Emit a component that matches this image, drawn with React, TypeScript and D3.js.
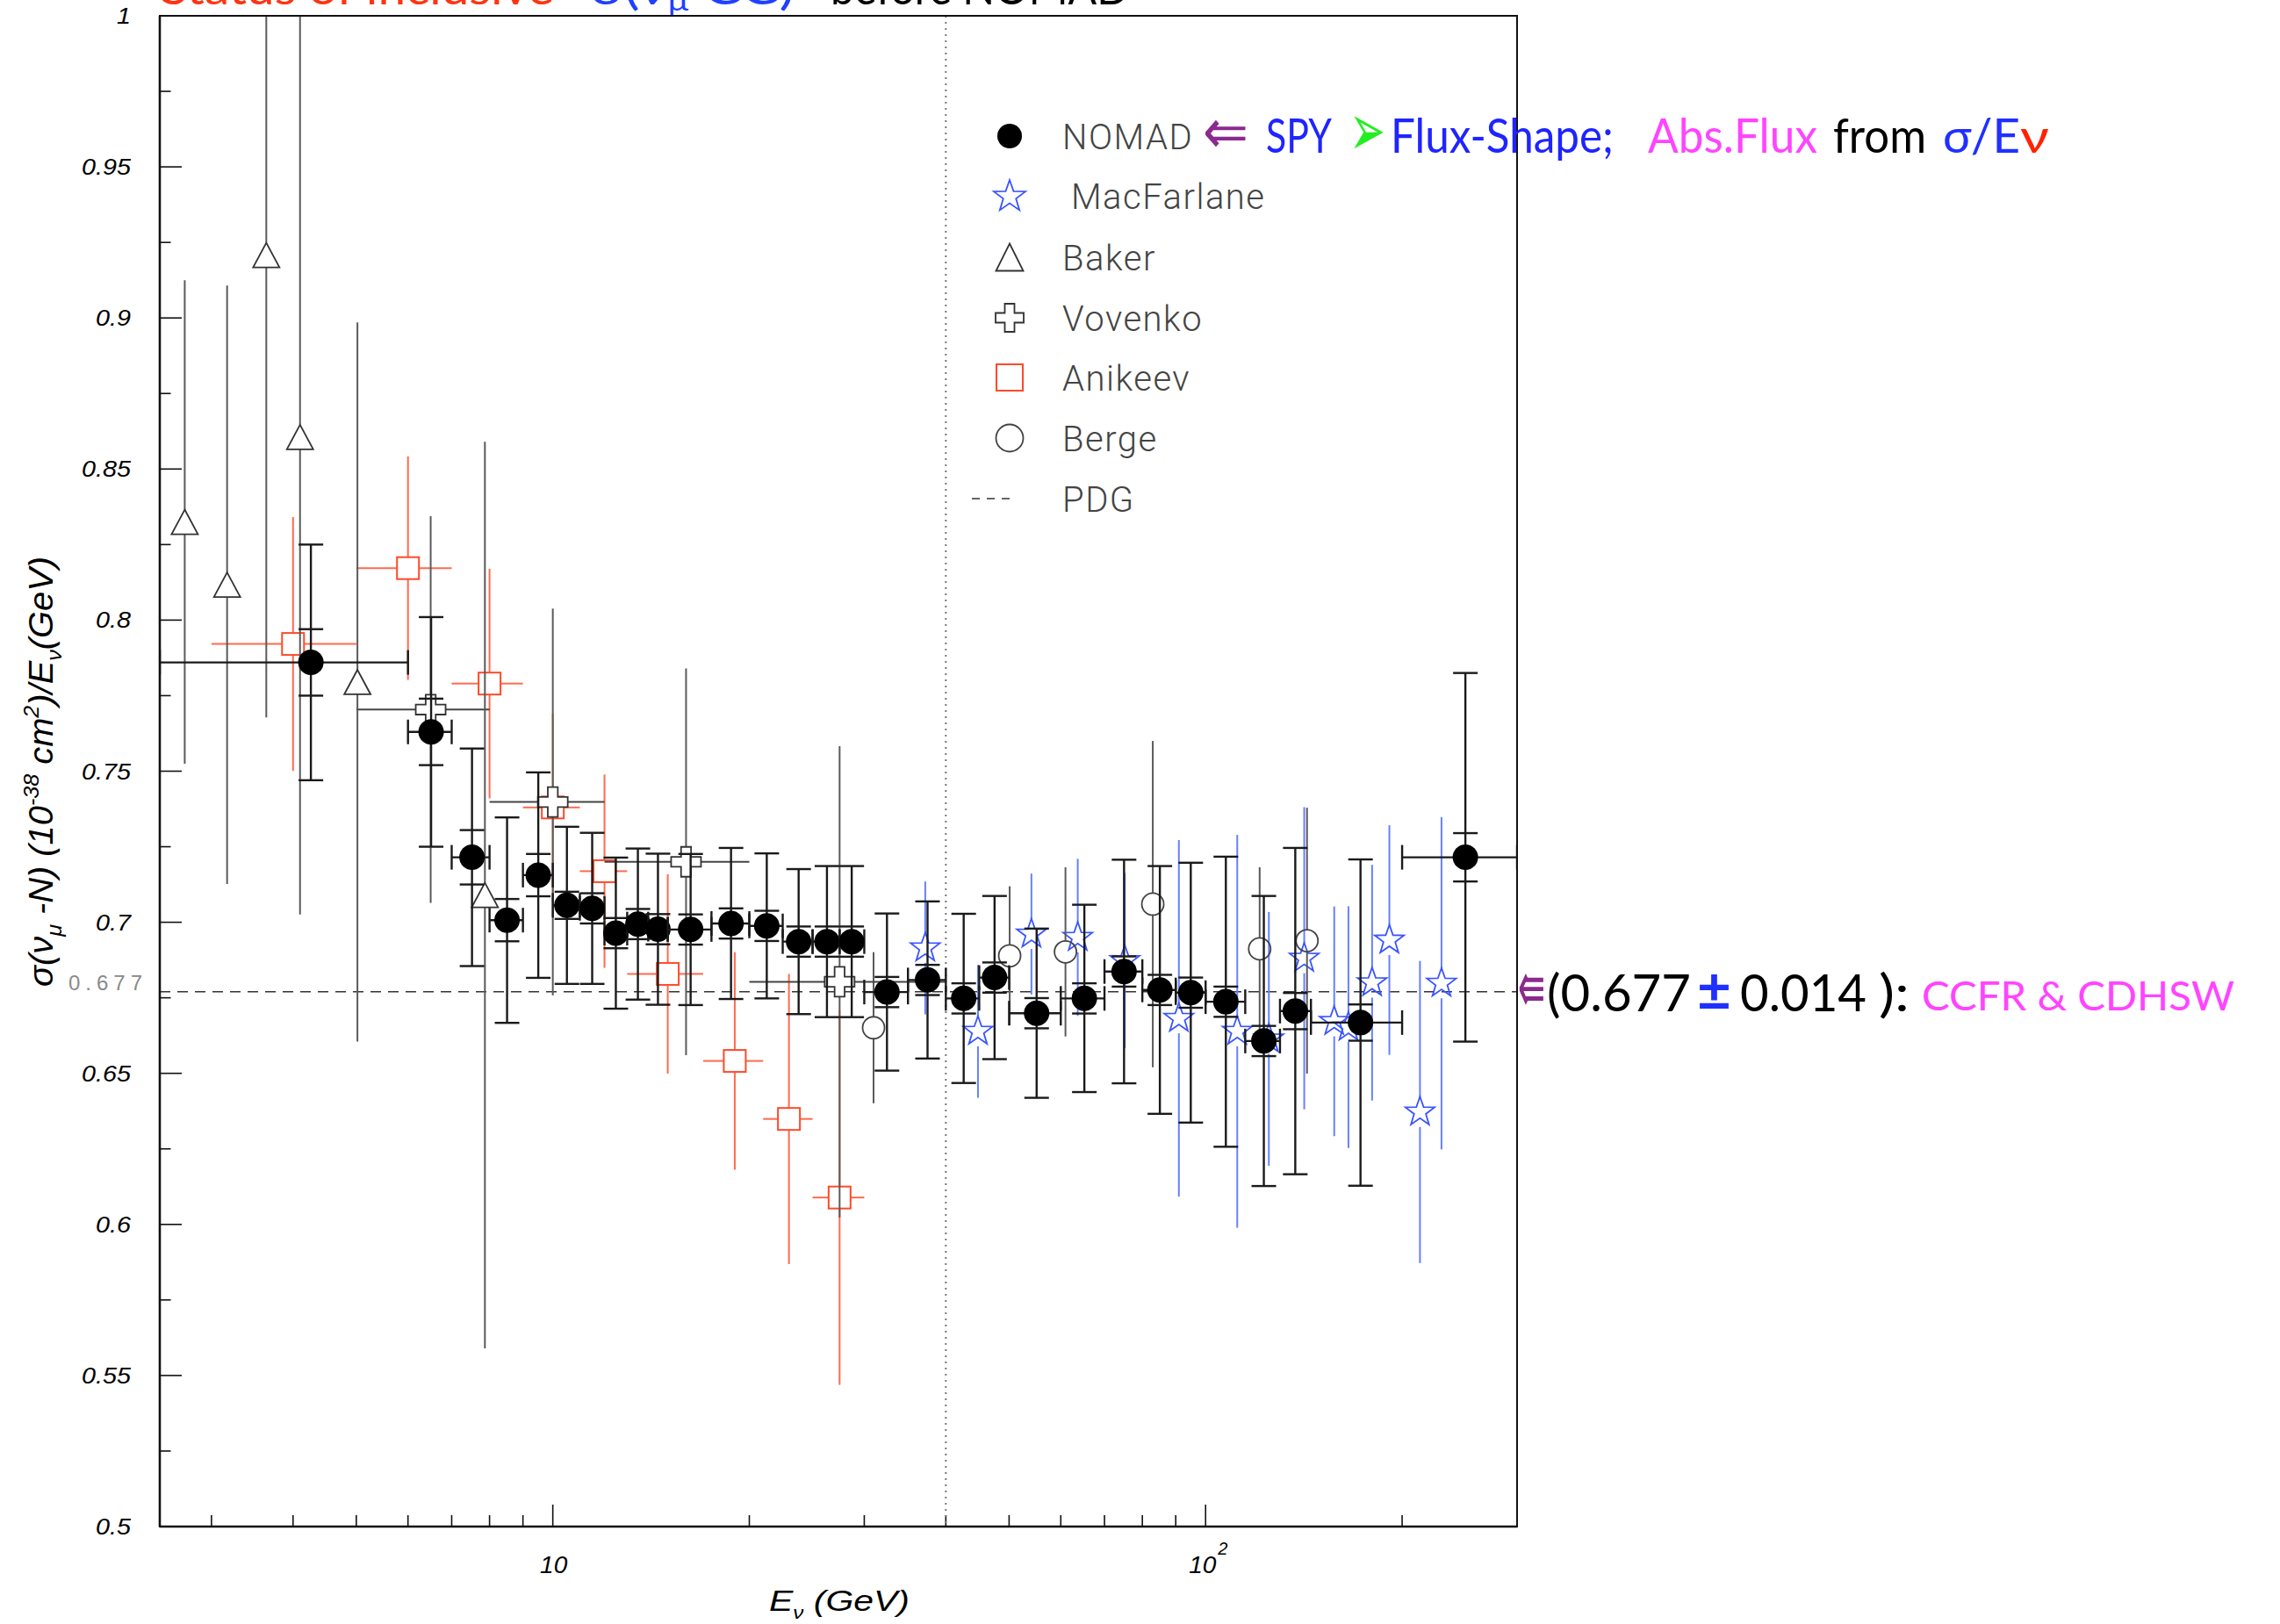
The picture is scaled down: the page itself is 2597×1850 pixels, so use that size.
import React from "react";
import * as d3 from "d3";

// ---------- data: sigma(nu_mu N)/E_nu in 1e-38 cm^2/GeV ----------
// NOMAD: bin centres, bin edges, values, total and statistical errors
const nomadE = [4.26, 6.51, 7.52, 8.51, 9.5, 10.51, 11.49, 12.49, 13.5, 14.49, 16.26, 18.75, 21.27, 23.8, 26.3, 28.7, 32.5, 37.5, 42.6, 47.5, 55.1, 65.2, 75.0, 85.1, 94.9, 107.4, 122.8, 137.2, 172.7, 250];
const nomadLo = [2.5, 6, 7, 8, 9, 10, 11, 12, 13, 14, 15, 17.5, 20, 22.5, 25, 27.5, 30, 35, 40, 45, 50, 60, 70, 80, 90, 100, 115, 130, 145, 200];
const nomadHi = [6, 7, 8, 9, 10, 11, 12, 13, 14, 15, 17.5, 20, 22.5, 25, 27.5, 30, 35, 40, 45, 50, 60, 70, 80, 90, 100, 115, 130, 145, 200, 300];
const nomadVal = [0.786, 0.763, 0.7215, 0.7007, 0.7156, 0.7056, 0.7046, 0.6964, 0.6994, 0.6977, 0.6976, 0.6996, 0.6988, 0.6936, 0.6936, 0.6936, 0.6769, 0.6809, 0.6748, 0.6817, 0.6699, 0.6748, 0.6837, 0.6776, 0.6767, 0.6737, 0.6607, 0.6706, 0.6668, 0.7215];
const nomadTot = [0.039, 0.038, 0.036, 0.034, 0.034, 0.026, 0.025, 0.025, 0.025, 0.025, 0.025, 0.025, 0.024, 0.024, 0.025, 0.025, 0.026, 0.026, 0.028, 0.027, 0.028, 0.031, 0.037, 0.041, 0.043, 0.048, 0.048, 0.054, 0.054, 0.061];
const nomadStat = [0.011, 0.011, 0.009, 0.007, 0.007, 0.0045, 0.005, 0.005, 0.005, 0.005, 0.005, 0.005, 0.005, 0.005, 0.005, 0.005, 0.005, 0.005, 0.005, 0.005, 0.005, 0.005, 0.005, 0.005, 0.005, 0.005, 0.005, 0.006, 0.006, 0.008];

// MacFarlane
const macE = [37.2, 44.8, 54.1, 63.7, 75.2, 91.0, 111.8, 125, 141.6, 157.4, 165.5, 179.9, 191.2, 213, 229.8];
const macVal = [0.6915, 0.6639, 0.6961, 0.695, 0.6873, 0.6682, 0.6639, 0.6614, 0.6881, 0.6672, 0.6653, 0.68, 0.6941, 0.6372, 0.6798];
const macErr = [0.022, 0.022, 0.02, 0.026, 0.029, 0.059, 0.065, 0.042, 0.05, 0.038, 0.04, 0.039, 0.038, 0.05, 0.055];

// Baker
const bakerE = [2.73, 3.17, 3.64, 4.1, 5.02, 7.87];
const bakerVal = [0.8325, 0.8117, 0.9208, 0.8606, 0.7795, 0.709];
const bakerErr = [0.08, 0.099, 0.153, 0.158, 0.119, 0.15];

// Vovenko
const vovE = [6.5, 10.0, 16.0, 27.5];
const vovLo = [5, 8, 12, 20];
const vovHi = [8, 12, 20, 40];
const vovVal = [0.7704, 0.7398, 0.72, 0.6803];
const vovErr = [0.064, 0.064, 0.064, 0.078];

// Anikeev
const aniE = [4.0, 6.0, 8.0, 10.0, 12.0, 15.0, 19.0, 23.0, 27.5];
const aniLo = [3, 5, 7, 9, 11, 13, 17, 21, 25];
const aniHi = [5, 7, 9, 11, 13, 17, 21, 25, 30];
const aniVal = [0.7921, 0.8172, 0.779, 0.738, 0.7169, 0.6829, 0.6541, 0.6349, 0.6089];
const aniErr = [0.042, 0.037, 0.038, 0.031, 0.032, 0.033, 0.036, 0.048, 0.062];

// Berge
const bergeE = [31.0, 50.1, 61.0, 83.0, 121.0, 143.0];
const bergeVal = [0.6651, 0.6889, 0.6902, 0.706, 0.6912, 0.6939];
const bergeErr = [0.025, 0.023, 0.028, 0.054, 0.027, 0.044];

// PDG world average and the energy boundary marker
const pdgValue = 0.677;
const boundaryE = 40;

// axis ticks
const yMajor = [0.5, 0.55, 0.6, 0.65, 0.7, 0.75, 0.8, 0.85, 0.9, 0.95, 1.0];
const yLabels = ["0.5", "0.55", "0.6", "0.65", "0.7", "0.75", "0.8", "0.85", "0.9", "0.95", "1"];
const yMinor = [0.525, 0.575, 0.625, 0.675, 0.725, 0.775, 0.825, 0.875, 0.925, 0.975];
const xMajor = [10, 100];
const xMinor = [3, 4, 5, 6, 7, 8, 9, 20, 30, 40, 50, 60, 70, 80, 90, 200];

const legendNames = ["NOMAD", "MacFarlane", "Baker", "Vovenko", "Anikeev", "Berge", "PDG"];

// ---------- geometry ----------
const W = 2597;
const H = 1850;
const X0 = 182;
const X1 = 1728;
const Y0 = 18;
const Y1 = 1739;

const x = d3.scaleLog().domain([2.5, 300]).range([X0, X1]);
const y = d3.scaleLinear().domain([0.5, 1]).range([Y1, Y0]);

const AX_FONT = "'Liberation Sans', Arial, Helvetica, sans-serif";
const GILL = "Lato, 'Open Sans', 'DejaVu Sans', sans-serif";
const SYM_FONT = "'DejaVu Sans', sans-serif";
const LEG_FONT = "Roboto, 'Liberation Sans', sans-serif";

const BLUE_STAR = "#3a55ff";
const BLUE_LINE = "#6680ff";
const RED_SQ = "#ff4a2a";
const RED_LINE = "#ff6a4e";
const GRAY_LINE = "#5a5a5a";

function starPath(R: number): string {
  const r = R * 0.4;
  const pts: string[] = [];
  for (let i = 0; i < 10; i++) {
    const a = -Math.PI / 2 + (i * Math.PI) / 5;
    const rad = i % 2 === 0 ? R : r;
    pts.push(`${(rad * Math.cos(a)).toFixed(2)},${(rad * Math.sin(a)).toFixed(2)}`);
  }
  return "M" + pts.join("L") + "Z";
}

function trianglePath(w: number, h: number): string {
  return `M0,${-h / 2}L${w / 2},${h / 2}L${-w / 2},${h / 2}Z`;
}

function crossPath(a: number, b: number): string {
  return `M${-b},${-a}L${b},${-a}L${b},${-b}L${a},${-b}L${a},${b}L${b},${b}L${b},${a}L${-b},${a}L${-b},${b}L${-a},${b}L${-a},${-b}L${-b},${-b}Z`;
}

// vertical error line split around the marker
function VErr(props: { cx: number; v: number; e: number; gap: number; stroke: string; sw: number }) {
  const { cx, v, e, gap, stroke, sw } = props;
  const cy = y(v);
  const top = y(v + e);
  const bot = y(v - e);
  return (
    <g stroke={stroke} strokeWidth={sw}>
      {cy - gap > top && <line x1={cx} x2={cx} y1={top} y2={cy - gap} />}
      {bot > cy + gap && <line x1={cx} x2={cx} y1={cy + gap} y2={bot} />}
    </g>
  );
}

function HErr(props: { cx: number; cy: number; lo: number; hi: number; gap: number; stroke: string; sw: number }) {
  const { cx, cy, lo, hi, gap, stroke, sw } = props;
  const l = x(lo);
  const r = x(hi);
  return (
    <g stroke={stroke} strokeWidth={sw}>
      {cx - gap > l && <line x1={l} x2={cx - gap} y1={cy} y2={cy} />}
      {r > cx + gap && <line x1={cx + gap} x2={r} y1={cy} y2={cy} />}
    </g>
  );
}

export default function App() {
  const star = starPath(17.5);
  const starLeg = starPath(19);
  const tri = trianglePath(30, 28);
  const triLeg = trianglePath(31, 31);
  const cross = crossPath(17, 5.7);
  const crossLeg = crossPath(16, 5.5);
  const capW = 14;
  const legY = [155, 223, 293, 362, 430, 499, 568];
  const legMX = 1150;

  return (
    <svg
      width={W}
      height={H}
      viewBox={`0 0 ${W} ${H}`}
      style={{ position: "absolute", left: 0, top: 0, background: "#fff" }}
    >
      <defs>
        <clipPath id="plotArea">
          <rect x={X0} y={Y0} width={X1 - X0} height={Y1 - Y0} />
        </clipPath>
      </defs>
      <rect x={0} y={0} width={W} height={H} fill="#fff" />

      {/* title, running off the top edge of the page */}
      <g fontFamily={GILL} fontSize={50}>
        <text x={183} y={5} fill="#ff3311" textLength={448} lengthAdjust="spacingAndGlyphs">
          Status of inclusive
        </text>
        <text x={672} y={5} fill="#2040ff" textLength={233} lengthAdjust="spacingAndGlyphs">
          σ(ν<tspan dy={7} fontSize={30}>μ</tspan>
          <tspan dy={-7}> CC)</tspan>
        </text>
        <text x={946} y={5} fill="#000" textLength={340} lengthAdjust="spacingAndGlyphs">
          before NOMAD
        </text>
      </g>

      {/* ticks */}
      <g stroke="#111" strokeWidth={1.6}>
        {yMajor.map((v) => (
          <line key={"ym" + v} x1={X0} x2={X0 + 25} y1={y(v)} y2={y(v)} />
        ))}
        {yMinor.map((v) => (
          <line key={"yn" + v} x1={X0} x2={X0 + 12.5} y1={y(v)} y2={y(v)} />
        ))}
        {xMajor.map((e) => (
          <line key={"xm" + e} x1={x(e)} x2={x(e)} y1={Y1} y2={Y1 - 25} />
        ))}
        {xMinor.map((e) => (
          <line key={"xn" + e} x1={x(e)} x2={x(e)} y1={Y1} y2={Y1 - 13} />
        ))}
      </g>

      {/* y tick labels */}
      <g fontFamily={AX_FONT} fontStyle="italic" fontSize={25} fill="#000">
        {yMajor.map((v, i) => (
          <text key={"yl" + v} transform={`translate(149,${y(v) + 9}) scale(1.15,1)`} textAnchor="end">
            {yLabels[i]}
          </text>
        ))}
      </g>

      {/* x tick labels */}
      <g fontFamily={AX_FONT} fontStyle="italic" fontSize={28} fill="#000">
        <text x={x(10) + 1} y={1792} textAnchor="middle">
          10
        </text>
        <text x={x(100) - 19} y={1792}>
          10
        </text>
        <text x={x(100) + 14} y={1771} fontSize={20}>
          2
        </text>
      </g>

      {/* axis titles */}
      <text
        x={876}
        y={1835}
        fontFamily={AX_FONT}
        fontStyle="italic"
        fontSize={34}
        textLength={160}
        lengthAdjust="spacingAndGlyphs"
      >
        E<tspan dy={9} fontSize={20}>ν</tspan>
        <tspan dy={-9}> (GeV)</tspan>
      </text>
      <text
        transform="translate(60,879) rotate(-90)"
        textAnchor="middle"
        fontFamily={AX_FONT}
        fontStyle="italic"
        fontSize={38}
        textLength={490}
        lengthAdjust="spacingAndGlyphs"
      >
        σ(ν<tspan dy={10} fontSize={24}>μ</tspan>
        <tspan dy={-10}> -N) (10</tspan>
        <tspan dy={-16} fontSize={24}>-38</tspan>
        <tspan dy={16}> cm</tspan>
        <tspan dy={-16} fontSize={24}>2</tspan>
        <tspan dy={16}>)/E</tspan>
        <tspan dy={10} fontSize={24}>ν</tspan>
        <tspan dy={-10}>(GeV)</tspan>
      </text>

      {/* PDG value label on the axis */}
      <text x={78} y={1128} fontFamily={AX_FONT} fontSize={24} fontWeight={300} fill="#8a8a8a" letterSpacing={6}>
        0.677
      </text>

      {/* reference lines */}
      <line x1={X0} x2={X1} y1={y(pdgValue)} y2={y(pdgValue)} stroke="#333" strokeWidth={1.6} strokeDasharray="12,8" />
      <line x1={x(boundaryE)} x2={x(boundaryE)} y1={Y0} y2={Y1} stroke="#777" strokeWidth={2} strokeDasharray="2,5" />

      <g clipPath="url(#plotArea)">
        {/* MacFarlane */}
        {macE.map((e, i) => (
          <VErr key={"me" + i} cx={x(e)} v={macVal[i]} e={macErr[i]} gap={17} stroke={BLUE_LINE} sw={2} />
        ))}
        {macE.map((e, i) => (
          <path key={"ms" + i} d={star} transform={`translate(${x(e)},${y(macVal[i])})`} fill="none" stroke={BLUE_STAR} strokeWidth={1.8} />
        ))}

        {/* Berge */}
        {bergeE.map((e, i) => (
          <g key={"b" + i}>
            <VErr cx={x(e)} v={bergeVal[i]} e={bergeErr[i]} gap={12.5} stroke={GRAY_LINE} sw={2} />
            <circle cx={x(e)} cy={y(bergeVal[i])} r={12.5} fill="none" stroke="#444" strokeWidth={1.8} />
          </g>
        ))}

        {/* Anikeev */}
        {aniE.map((e, i) => (
          <g key={"a" + i}>
            <VErr cx={x(e)} v={aniVal[i]} e={aniErr[i]} gap={12.5} stroke={RED_LINE} sw={2} />
            <HErr cx={x(e)} cy={y(aniVal[i])} lo={aniLo[i]} hi={aniHi[i]} gap={12.5} stroke={RED_LINE} sw={2} />
            <rect x={x(e) - 12.5} y={y(aniVal[i]) - 12.5} width={25} height={25} fill="none" stroke={RED_SQ} strokeWidth={2} />
          </g>
        ))}

        {/* Vovenko */}
        {vovE.map((e, i) => (
          <g key={"v" + i}>
            <VErr cx={x(e)} v={vovVal[i]} e={vovErr[i]} gap={17} stroke={GRAY_LINE} sw={2} />
            <HErr cx={x(e)} cy={y(vovVal[i])} lo={vovLo[i]} hi={vovHi[i]} gap={17} stroke="#444" sw={2} />
            <path d={cross} transform={`translate(${x(e)},${y(vovVal[i])})`} fill="#fff" stroke="#333" strokeWidth={1.8} />
          </g>
        ))}

        {/* Baker */}
        {bakerE.map((e, i) => (
          <g key={"bk" + i}>
            <VErr cx={x(e)} v={bakerVal[i]} e={bakerErr[i]} gap={14} stroke={GRAY_LINE} sw={2} />
            <path d={tri} transform={`translate(${x(e)},${y(bakerVal[i])})`} fill="none" stroke="#333" strokeWidth={1.8} />
          </g>
        ))}

        {/* NOMAD */}
        {nomadE.map((e, i) => {
          const cx = x(e);
          const cy = y(nomadVal[i]);
          const v = nomadVal[i];
          const lo = x(nomadLo[i]);
          const hi = x(nomadHi[i]);
          return (
            <g key={"n" + i} stroke="#1a1a1a" strokeWidth={2.4}>
              <line x1={cx} x2={cx} y1={y(v + nomadTot[i])} y2={y(v - nomadTot[i])} />
              {[v + nomadTot[i], v - nomadTot[i], v + nomadStat[i], v - nomadStat[i]].map((c, k) => (
                <line key={k} x1={cx - capW} x2={cx + capW} y1={y(c)} y2={y(c)} />
              ))}
              <line x1={lo} x2={hi} y1={cy} y2={cy} />
              <line x1={lo} x2={lo} y1={cy - capW} y2={cy + capW} />
              <line x1={hi} x2={hi} y1={cy - capW} y2={cy + capW} />
              <circle cx={cx} cy={cy} r={14.5} fill="#000" stroke="none" />
            </g>
          );
        })}
      </g>

      {/* frame */}
      <rect x={X0} y={Y0} width={X1 - X0} height={Y1 - Y0} fill="none" stroke="#111" strokeWidth={2} />
      <line x1={X0} x2={X0} y1={Y0} y2={Y1} stroke="#111" strokeWidth={2.6} />
      <line x1={X0} x2={X1} y1={Y1} y2={Y1} stroke="#111" strokeWidth={2.6} />

      {/* legend */}
      <g>
        <circle cx={legMX} cy={legY[0]} r={14} fill="#000" />
        <path d={starLeg} transform={`translate(${legMX},${legY[1] + 1})`} fill="none" stroke={BLUE_STAR} strokeWidth={1.8} />
        <path d={triLeg} transform={`translate(${legMX},${legY[2]})`} fill="none" stroke="#333" strokeWidth={1.8} />
        <path d={crossLeg} transform={`translate(${legMX},${legY[3]})`} fill="#fff" stroke="#333" strokeWidth={1.8} />
        <rect x={legMX - 15} y={legY[4] - 15} width={30} height={30} fill="none" stroke={RED_SQ} strokeWidth={2} />
        <circle cx={legMX} cy={legY[5]} r={15.5} fill="none" stroke="#444" strokeWidth={1.8} />
        <line x1={1107} x2={1151} y1={legY[6]} y2={legY[6]} stroke="#333" strokeWidth={1.6} strokeDasharray="9,8" />
        <g fontFamily={LEG_FONT} fontWeight={300} fontSize={40} fill="#444" letterSpacing={1.5}>
          {legendNames.map((n, i) => (
            <text key={n} x={i === 1 ? 1220 : 1210} y={legY[i] + 15}>
              {n}
            </text>
          ))}
        </g>
        {/* flux note next to NOMAD entry */}
        <g fontFamily={GILL} fontSize={54}>
          <text x={1370} y={174} fill="#8b2a8f" fontFamily={SYM_FONT} fontSize={70} textLength={52} lengthAdjust="spacingAndGlyphs">⇐</text>
          <text x={1442} y={174} fill="#1f24ff" textLength={75} lengthAdjust="spacingAndGlyphs">SPY</text>
          <text x={1537} y={177} fill="#22ee22" fontFamily={SYM_FONT} fontSize={84} textLength={41} lengthAdjust="spacingAndGlyphs">➢</text>
          <text x={1584} y={174} fill="#1f24ff" textLength={254} lengthAdjust="spacingAndGlyphs">Flux-Shape;</text>
          <text x={1877} y={174} fill="#ff44ff" textLength={193} lengthAdjust="spacingAndGlyphs">Abs.Flux</text>
          <text x={2088} y={174} fill="#000" textLength={106} lengthAdjust="spacingAndGlyphs">from</text>
          <text x={2213} y={174} fill="#1f30ff" textLength={88} lengthAdjust="spacingAndGlyphs">σ/E</text>
          <text x={2301} y={174} fill="#ff2200" textLength={33} lengthAdjust="spacingAndGlyphs">ν</text>
        </g>
      </g>

      {/* world-average annotation */}
      <g fontFamily={GILL}>
        <text x={1729} y={1153} fill="#8b2a8f" fontFamily={SYM_FONT} fontSize={84} textLength={31} lengthAdjust="spacingAndGlyphs">⇚</text>
        <text x={1762} y={1152} fill="#000" fontSize={58} textLength={164} lengthAdjust="spacingAndGlyphs">(0.677</text>
        <text x={1933} y={1152} fill="#1f30ff" fontSize={66} fontWeight="bold" textLength={39} lengthAdjust="spacingAndGlyphs">±</text>
        <text x={1982} y={1152} fill="#000" fontSize={58} textLength={144} lengthAdjust="spacingAndGlyphs">0.014</text>
        <text x={2140} y={1152} fill="#000" fontSize={58} textLength={35} lengthAdjust="spacingAndGlyphs">):</text>
        <text x={2189} y={1151} fill="#ff44ff" fontSize={46} textLength={356} lengthAdjust="spacingAndGlyphs">CCFR &amp; CDHSW</text>
      </g>
    </svg>
  );
}
